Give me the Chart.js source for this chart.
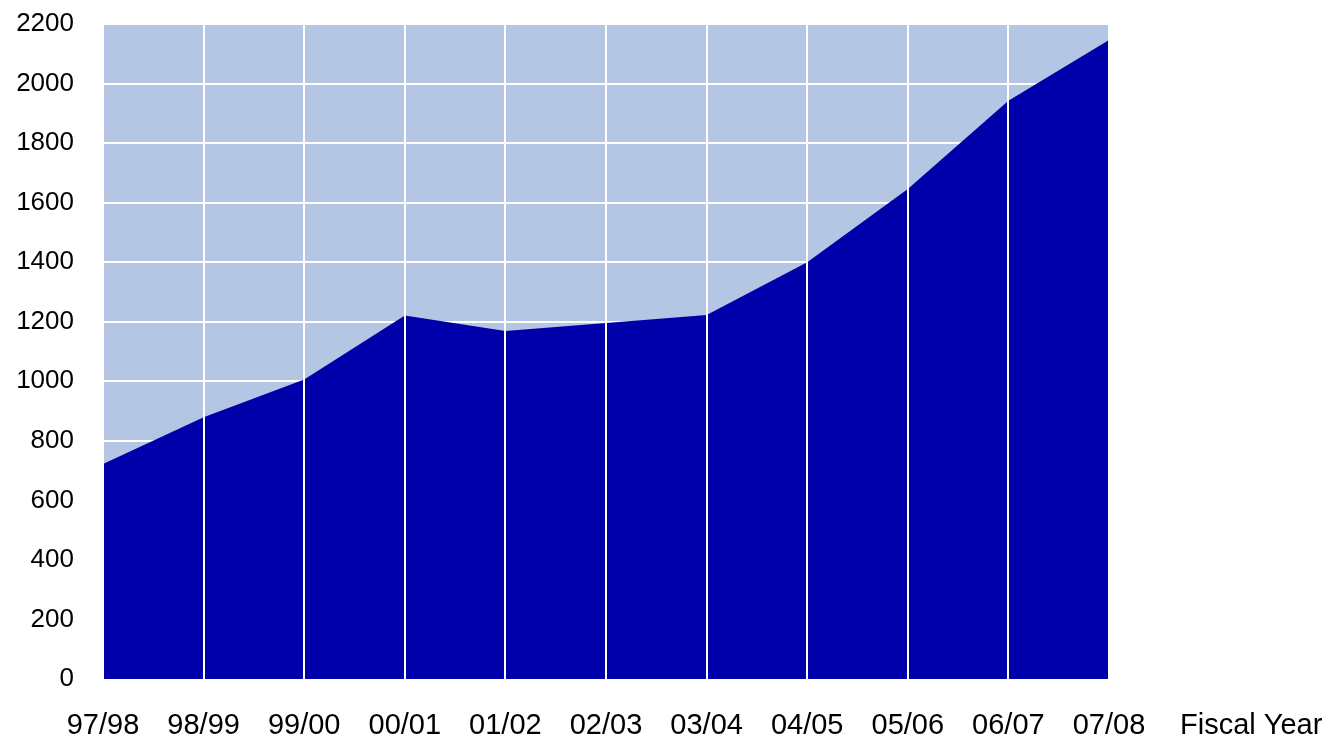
<!DOCTYPE html>
<html>
<head>
<meta charset="utf-8">
<script src="https://cdn.jsdelivr.net/npm/chart.js@4/dist/chart.umd.min.js"></script>
<style>
  html, body { margin: 0; padding: 0; background: #ffffff; }
  #wrap { width: 1330px; height: 740px; position: relative; }
</style>
</head>
<body>
<div id="wrap"><canvas id="c"></canvas></div>
<script>
// Fiscal years on the horizontal axis
const fiscalYears = ['97/98', '98/99', '99/00', '00/01', '01/02', '02/03', '03/04', '04/05', '05/06', '06/07', '07/08'];
// Yearly totals
const totals = [722, 879, 1006, 1221, 1169, 1196, 1223, 1400, 1646, 1942, 2146];
// Value axis range
const yMin = 0;
const yMax = 2200;
const yStep = 200;
const xAxisTitle = 'Fiscal Year';

const FAMILY = '"Liberation Sans", Arial, Helvetica, sans-serif';
const X_FONT = { family: FAMILY, size: 29 };
const Y_FONT = { family: FAMILY, size: 26 };
const X_TICK_PAD = 30;

// Light panel behind the plotted area
const panelBackground = {
  id: 'panelBackground',
  beforeDraw(chart) {
    const { ctx, chartArea: a } = chart;
    ctx.save();
    ctx.fillStyle = '#b4c6e4';
    ctx.fillRect(a.left, a.top, a.right - a.left, a.bottom - a.top);
    ctx.restore();
  }
};

// Axis caption placed on the tick-label row, right of the last label
const axisCaption = {
  id: 'axisCaption',
  afterDraw(chart) {
    const { ctx, chartArea: a } = chart;
    ctx.save();
    ctx.font = `${X_FONT.size}px ${X_FONT.family}`;
    ctx.fillStyle = '#000000';
    ctx.textAlign = 'left';
    ctx.textBaseline = 'middle';
    ctx.fillText(xAxisTitle, 1180, a.bottom + X_TICK_PAD + X_FONT.size * 0.6);
    ctx.restore();
  }
};

new Chart(document.getElementById('c'), {
  type: 'line',
  data: {
    labels: fiscalYears,
    datasets: [{
      data: totals,
      fill: 'origin',
      backgroundColor: '#0000aa',
      borderWidth: 0,
      pointRadius: 0,
      tension: 0
    }]
  },
  options: {
    responsive: true,
    maintainAspectRatio: false,
    animation: false,
    layout: { padding: { left: 0, right: 221, top: 24, bottom: 0 } },
    plugins: { legend: { display: false }, tooltip: { enabled: false } },
    scales: {
      x: {
        type: 'category',
        offset: false,
        grid: { color: '#ffffff', lineWidth: 2, drawTicks: false, z: 1 },
        border: { display: false },
        ticks: { color: '#000000', font: X_FONT, padding: X_TICK_PAD, maxRotation: 0, autoSkip: false },
        afterFit(scale) {
          scale.height = 61;
          scale.paddingLeft = 0;
          scale.paddingRight = 0;
        }
      },
      y: {
        min: yMin,
        max: yMax,
        grid: { color: '#ffffff', lineWidth: 2, drawTicks: false },
        border: { display: false },
        ticks: {
          stepSize: yStep, color: '#000000', font: Y_FONT, padding: 29,
          callback: (v) => String(v)
        },
        afterFit(scale) {
          scale.width = 103;
          scale.paddingTop = 0;
          scale.paddingBottom = 0;
        }
      }
    }
  },
  plugins: [panelBackground, axisCaption]
});
</script>
</body>
</html>
